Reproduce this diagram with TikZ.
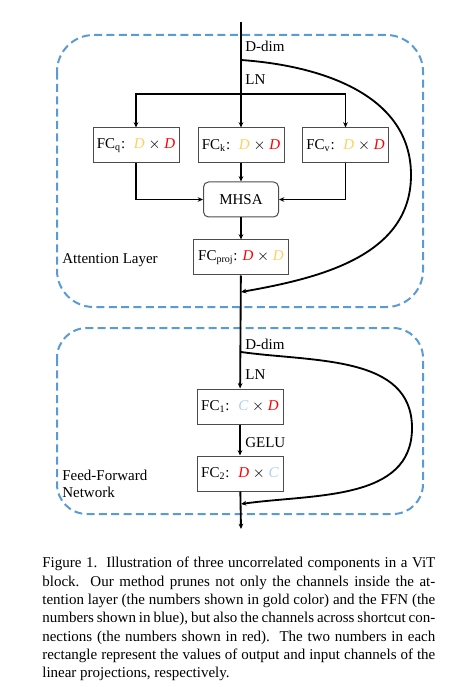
\documentclass[tikz,border=0pt]{standalone}
\usepackage{fontspec}
\setmainfont{Liberation Serif}
\usetikzlibrary{arrows.meta}

\definecolor{gold}{RGB}{255,208,95}
\definecolor{lblue}{RGB}{170,210,240}
\definecolor{dashblue}{RGB}{91,155,213}
\newcommand{\gD}{\textcolor{gold}{\textit{D}}}
\newcommand{\rD}{\textcolor{red}{\textit{D}}}
\newcommand{\bC}{\textcolor{lblue}{\textit{C}}}

\begin{document}
\begin{tikzpicture}[x=0.6pt, y=-0.6pt,
		fcbox/.style={draw=black!70, line width=0.6pt, minimum height=21pt, inner sep=2pt, font=\fontsize{9}{11}\selectfont},
		flow/.style={line width=1.1pt},
		arr/.style={line width=1.1pt, -{Stealth[length=3.2pt, width=2.8pt]}},
		lbl/.style={anchor=west, inner sep=0pt, font=\fontsize{9}{10.5}\selectfont},
		layerbox/.style={draw=dashblue, line width=1.2pt, dash pattern=on 4.8pt off 2.6pt}]
		\useasboundingbox (0,0) rectangle (452,687);

		% the two layers
		\draw[layerbox, rounded corners=22pt] (57,35) rectangle (423,307);
		\draw[layerbox, rounded corners=18pt] (57,328) rectangle (423,514);

		% attention layer
		\coordinate (top) at (241,22);
		\coordinate (sc1) at (241,60);
		\coordinate (split1) at (241,94);
		\coordinate (far1) at (411,175);
		\coordinate (join1) at (241,292);

		\node[fcbox, minimum width=51.6pt] (fcq) at (136,145.5) {FC\textsubscript{q}:~ \gD{} $\times$ \rD};
		\node[fcbox, minimum width=51.6pt] (fck) at (241,145.5) {FC\textsubscript{k}:~ \gD{} $\times$ \rD};
		\node[fcbox, minimum width=52pt] (fcv) at (345.5,145.5) {FC\textsubscript{v}:~ \gD{} $\times$ \rD};
		\node[fcbox, rounded corners=3pt, minimum width=45pt] (mhsa) at (241,199.5) {MHSA};
		\node[fcbox, minimum width=57pt] (fcproj) at (241,257.5) {FC\textsubscript{proj}: \rD{} $\times$ \gD};

		\node[lbl] (ddim1) at (245,46) {D-dim};
		\node[lbl] (ln1) at (245,80) {LN};
		\node[lbl] (attn) at (62,260) {Attention Layer};

		\draw[flow] (top) -- (split1);
		\draw[arr] (split1) -| (fcq);
		\draw[arr] (split1) -- (fck);
		\draw[arr] (split1) -| (fcv);
		\draw[arr] (fcq) |- (mhsa);
		\draw[arr] (fck) -- (mhsa);
		\draw[arr] (fcv) |- (mhsa);
		\draw[arr] (mhsa) -- (fcproj);
		\draw[arr] (sc1) to[out=-4, in=90] (far1) to[out=-90, in=10] (join1);

		% feed-forward network
		\coordinate (sc2) at (241,352);
		\coordinate (far2) at (412,428);
		\coordinate (join2) at (241,504);
		\coordinate (bottom) at (241,529);

		\node[fcbox, minimum width=51.6pt] (fc1) at (240,406.5) {FC\textsubscript{1}:~ \bC{} $\times$ \rD};
		\node[fcbox, minimum width=51.6pt] (fc2) at (240,473.5) {FC\textsubscript{2}:~ \rD{} $\times$ \bC};

		\node[lbl] (ddim2) at (245,344) {D-dim};
		\node[lbl] (ln2) at (245,375) {LN};
		\node[lbl] (gelu) at (245,443) {GELU};
		\node[lbl, align=left] (ffn) at (62,484) {Feed-Forward\\Network};

		\draw[arr] (fcproj) -- (fc1);
		\draw[arr] (fc1) -- (fc2);
		\draw[arr] (fc2) -- (bottom);
		\draw[arr] (sc2) to[out=-8, in=90] (far2) to[out=-90, in=8] (join2);

		% caption
		\node[anchor=north west, text width=235.8pt, align=justify, inner sep=0pt, font=\fontsize{9}{11}\selectfont] (caption) at (42,557) {Figure 1.\ \ Illustration of three uncorrelated components in a ViT\linebreak
			block.\ \ Our method prunes not only the channels inside the at-\linebreak
			tention layer (the numbers shown in gold color) and the FFN (the\linebreak
			numbers shown in blue), but also the channels across shortcut con-\linebreak
			nections (the numbers shown in red).\ \ The two numbers in each\linebreak
			rectangle represent the values of output and input channels of the\linebreak
			linear projections, respectively.};
	\end{tikzpicture}
\end{document}
